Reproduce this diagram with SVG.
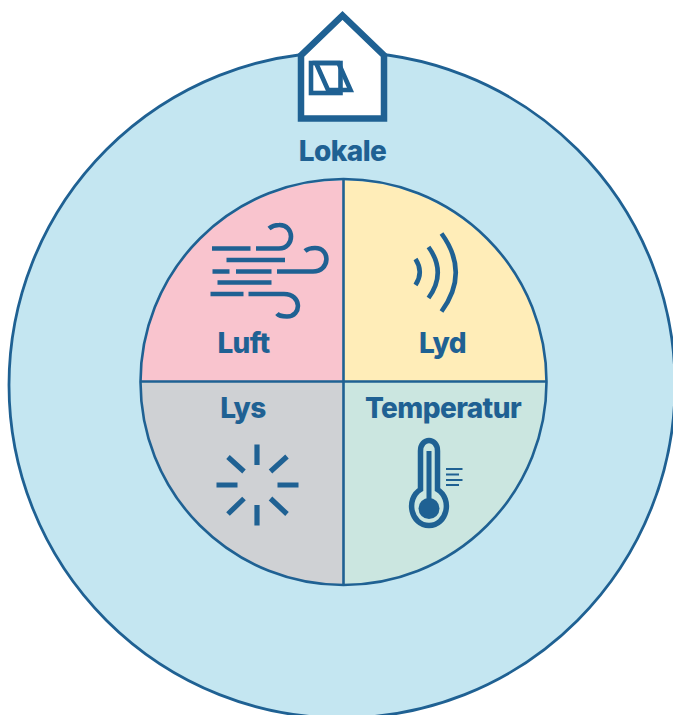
<svg xmlns="http://www.w3.org/2000/svg" width="673" height="715" viewBox="0 0 673 715">
<style>
.l{fill:none;stroke:#1f6193;stroke-width:2.6}
.i{fill:none;stroke:#1f6193;stroke-width:4.6}
.t{font-family:Inter,"Liberation Sans",sans-serif;font-weight:800;font-size:28px;fill:#1f6193;text-anchor:middle;letter-spacing:-.6px}
</style>
<rect width="673" height="715" fill="#fff"/>
<g id="lokale">
<circle cx="342" cy="385" r="333" fill="#c4e6f1" stroke="#1f6193" stroke-width="2.8"/>
<text class="t" x="342.500" y="161">Lokale</text>
</g>
<g id="hus">
<path d="M301 118.500V55.500L342.500 15.500L384 55.500V118.500Z" fill="#fff" stroke="#1f6193" stroke-width="6.500" stroke-miterlimit="10"/>
<rect x="311" y="63" width="29.500" height="30" class="i" stroke-width="4"/>
<path d="M316 63H338.500L350.500 90H328Z" class="i"/>
</g>
<g id="luft">
<path d="M343.500 180.500A202 202 0 0 0 141 381.500H343.500Z" fill="#f9c4ce"/>
<g class="i">
<path d="M212 248.500H250.500M256 248.500H279C295 248.500 295 224.500 279 225C275 225 272 226 269 228.500"/>
<path d="M226.500 260H285M212.500 271.500H229.500M236 271.500H271.500M217.500 282.500H271.500M210.500 294H243.500"/>
<path d="M277 271.500H313C330 271.500 331 248 315 248C311 248 308 248.500 305 251"/>
<path d="M248.500 294H284C302 294 302 316.500 287 316.500C283 316.500 279 316 277 313.500"/>
</g>
<text class="t" x="243.500" y="353">Luft</text>
</g>
<g id="lyd">
<path d="M343.500 180.500A202 202 0 0 1 546 381.500H343.500Z" fill="#ffedb8"/>
<g class="i">
<path d="M415.500 259Q424 272 415.500 285"/>
<path d="M428.500 247Q447 272.500 428.500 298"/>
<path d="M441.500 233.500Q470 272.500 441.500 311.500"/>
</g>
<text class="t" x="442.500" y="353">Lyd</text>
</g>
<g id="lys">
<path d="M141 381.500A202 202 0 0 0 343.500 584.500V381.500Z" fill="#cfd1d4"/>
<path d="M257 444.500V465M257 505V525.500M216.500 485H237.500M277.500 485H298.500M228 457L244 471.500M287 456.500L270.500 471.500M244 498.500L228 514M270.500 498.500L287 514" fill="none" stroke="#1f6193" stroke-width="5.200"/>
<text class="t" x="243" y="418">Lys</text>
</g>
<g id="temperatur">
<path d="M546 381.500A202 202 0 0 1 343.500 584.500V381.500Z" fill="#cbe6e0"/>
<path d="M420.500 489.500V451C420.500 437 437.500 437 437.500 451V489.500C453 499 447 525.500 429 525.500C411 525.500 405 499 420.500 489.500Z" fill="none" stroke="#1f6193" stroke-width="5.500"/>
<path d="M429 451V505" fill="none" stroke="#1f6193" stroke-width="5"/>
<circle cx="429" cy="508.500" r="10.500" fill="#1f6193"/>
<path d="M446 469H462.500M446 474.500H459M446 480H462.500M446 485H459" fill="none" stroke="#1f6193" stroke-width="2.200"/>
<text class="t" x="443" y="418" letter-spacing="-.8">Temperatur</text>
</g>
<g id="koblinger">
<circle cx="343.500" cy="382" r="203" class="l"/>
<path d="M343.500 179V585M140.500 381.500H546.500" class="l"/>
</g>
</svg>
